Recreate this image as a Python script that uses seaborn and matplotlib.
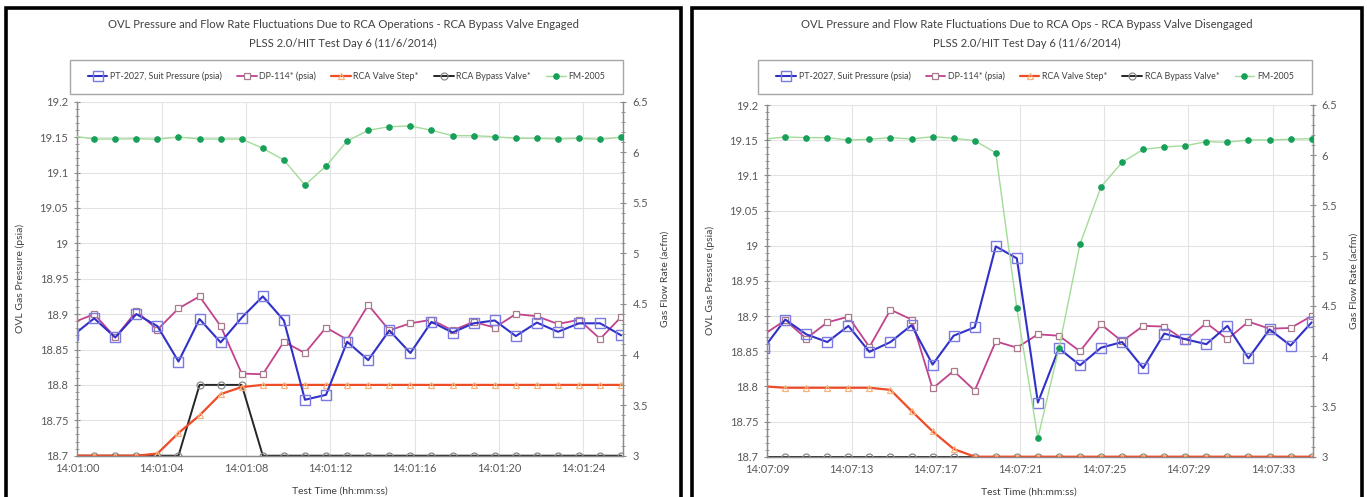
import seaborn as sns
import matplotlib.pyplot as plt
from matplotlib.patches import Rectangle
from matplotlib.ticker import MultipleLocator, FuncFormatter

# ---- data ----
# seconds after the first axis tick (samples sit ~0.8 s after each whole second)
eng_time = [-0.2, 0.8, 1.8, 2.8, 3.8, 4.8, 5.8, 6.8, 7.8, 8.8, 9.8, 10.8, 11.8, 12.8,
            13.8, 14.8, 15.8, 16.8, 17.8, 18.8, 19.8, 20.8, 21.8, 22.8, 23.8, 24.8, 25.8]
eng_pt2027 = [18.870, 18.894, 18.867, 18.900, 18.883, 18.833, 18.893, 18.860, 18.895, 18.925,
              18.891, 18.779, 18.786, 18.861, 18.835, 18.877, 18.845, 18.889, 18.874, 18.887,
              18.891, 18.869, 18.888, 18.875, 18.887, 18.887, 18.870]
eng_dp114 = [18.888, 18.900, 18.867, 18.904, 18.878, 18.908, 18.925, 18.883, 18.816, 18.815,
             18.861, 18.845, 18.881, 18.864, 18.913, 18.877, 18.887, 18.892, 18.877, 18.889,
             18.881, 18.900, 18.897, 18.886, 18.892, 18.865, 18.896]
eng_valve_step = [18.700, 18.700, 18.700, 18.700, 18.703, 18.732, 18.757, 18.787, 18.797, 18.800,
                  18.800, 18.800, 18.800, 18.800, 18.800, 18.800, 18.800, 18.800, 18.800, 18.800,
                  18.800, 18.800, 18.800, 18.800, 18.800, 18.800, 18.800]
eng_bypass = [18.7, 18.7, 18.7, 18.7, 18.7, 18.7, 18.8, 18.8, 18.8, 18.7, 18.7, 18.7, 18.7, 18.7,
              18.7, 18.7, 18.7, 18.7, 18.7, 18.7, 18.7, 18.7, 18.7, 18.7, 18.7, 18.7, 18.7]
eng_fm2005 = [6.160, 6.131, 6.131, 6.134, 6.128, 6.151, 6.131, 6.131, 6.131, 6.039,
              5.923, 5.676, 5.864, 6.111, 6.217, 6.253, 6.260, 6.217, 6.164, 6.164,
              6.154, 6.138, 6.138, 6.131, 6.138, 6.128, 6.148]
eng_ticklabels = ["14:01:00", "14:01:04", "14:01:08", "14:01:12", "14:01:16", "14:01:20", "14:01:24"]

dis_time = [-0.15, 0.85, 1.85, 2.85, 3.85, 4.85, 5.85, 6.85, 7.85, 8.85, 9.85, 10.85, 11.85, 12.85,
            13.85, 14.85, 15.85, 16.85, 17.85, 18.85, 19.85, 20.85, 21.85, 22.85, 23.85, 24.85, 25.85]
dis_pt2027 = [18.855, 18.895, 18.874, 18.863, 18.886, 18.849, 18.863, 18.887, 18.831, 18.872,
              18.884, 18.999, 18.982, 18.777, 18.854, 18.830, 18.855, 18.863, 18.826, 18.875,
              18.867, 18.860, 18.886, 18.840, 18.881, 18.858, 18.891]
dis_dp114 = [18.874, 18.894, 18.868, 18.891, 18.899, 18.856, 18.909, 18.895, 18.797, 18.822,
             18.794, 18.864, 18.855, 18.874, 18.872, 18.850, 18.888, 18.864, 18.886, 18.885,
             18.865, 18.890, 18.867, 18.892, 18.882, 18.883, 18.900]
dis_valve_step = [18.800, 18.798, 18.798, 18.798, 18.798, 18.798, 18.795, 18.765, 18.736, 18.711,
                  18.700, 18.700, 18.700, 18.700, 18.700, 18.700, 18.700, 18.700, 18.700, 18.700,
                  18.700, 18.700, 18.700, 18.700, 18.700, 18.700, 18.700]
dis_bypass = [18.7] * 27
dis_fm2005 = [6.160, 6.182, 6.175, 6.175, 6.152, 6.159, 6.175, 6.162, 6.185, 6.169,
              6.145, 6.025, 4.477, 3.185, 4.079, 5.117, 5.687, 5.930, 6.058, 6.082,
              6.095, 6.135, 6.129, 6.152, 6.152, 6.159, 6.165]
dis_ticklabels = ["14:07:09", "14:07:13", "14:07:17", "14:07:21", "14:07:25", "14:07:29", "14:07:33"]

series_labels = ["PT-2027, Suit Pressure (psia)", "DP-114* (psia)", "RCA Valve Step*",
                 "RCA Bypass Valve*", "FM-2005"]

titles = ["OVL Pressure and Flow Rate Fluctuations Due to RCA Operations - RCA Bypass Valve Engaged",
          "OVL Pressure and Flow Rate Fluctuations Due to RCA Ops - RCA Bypass Valve Disengaged"]
subtitle = "PLSS 2.0/HIT Test Day 6 (11/6/2014)"

sns.set_theme(style="white")
plt.rcParams['font.family'] = ['Lato', 'DejaVu Sans']

W, H = 1367, 497
fig = plt.figure(figsize=(W / 100, H / 100), dpi=100)
fig.patch.set_facecolor('white')

TXT = '#404040'
TICK = '#595959'
SPINE = '#8c8c8c'
GRID = '#e3e3e3'

general = FuncFormatter(lambda v, p: '{:g}'.format(round(v, 3)))


def px_axes(x0, x1, y0, y1):
    return fig.add_axes([x0 / W, 1 - y1 / H, (x1 - x0) / W, (y1 - y0) / H])


def draw_panel(ax, t, pt, dp, step, bypass, fm, ticklabels):
    sns.lineplot(x=t, y=pt, ax=ax, color='#3131c8', lw=1.5, marker='s', markersize=6.5,
                 markerfacecolor='none', markeredgecolor='#7a7ae0', markeredgewidth=1,
                 estimator=None, sort=False, label=series_labels[0], zorder=4)
    sns.lineplot(x=t, y=dp, ax=ax, color='#c2428e', lw=1.3, marker='s', markersize=5,
                 markerfacecolor='white', markeredgecolor='#a87a8a', markeredgewidth=0.9,
                 estimator=None, sort=False, label=series_labels[1], zorder=3)
    sns.lineplot(x=t, y=step, ax=ax, color='#ef4b27', lw=1.6, marker='^', markersize=5,
                 markerfacecolor='none', markeredgecolor='#f5b47a', markeredgewidth=0.9,
                 estimator=None, sort=False, label=series_labels[2], zorder=3)
    sns.lineplot(x=t, y=bypass, ax=ax, color='#262626', lw=1.4, marker='o', markersize=5,
                 markerfacecolor='none', markeredgecolor='#8a8a8a', markeredgewidth=0.9,
                 estimator=None, sort=False, label=series_labels[3], zorder=2)
    ax.set_xlim(0, 25.9)
    ax.set_ylim(18.7, 19.2)
    ax.yaxis.set_major_locator(MultipleLocator(0.05))
    ax.yaxis.set_minor_locator(MultipleLocator(0.01))
    ax.yaxis.set_major_formatter(general)
    ax.set_xticks([0, 4, 8, 12, 16, 20, 24])
    ax.set_xticklabels(ticklabels)
    ax.grid(True, which='major', color=GRID, lw=0.8)
    ax.set_axisbelow(True)

    ax2 = ax.twinx()
    sns.lineplot(x=t, y=fm, ax=ax2, color='#a3dc98', lw=1.0, marker='o', markersize=4,
                 markerfacecolor='#17a05a', markeredgecolor='#17a05a',
                 estimator=None, sort=False, label=series_labels[4], zorder=5)
    ax2.set_ylim(3, 6.5)
    ax2.yaxis.set_major_locator(MultipleLocator(0.5))
    ax2.yaxis.set_minor_locator(MultipleLocator(0.1))
    ax2.yaxis.set_major_formatter(general)
    ax2.grid(False)
    if ax2.get_legend():
        ax2.get_legend().remove()

    for a in (ax, ax2):
        for s in a.spines.values():
            s.set_color(SPINE)
            s.set_linewidth(0.9)
        a.spines['top'].set_visible(False)
        a.tick_params(axis='both', which='major', colors=SPINE, labelcolor=TICK,
                      labelsize=8, length=5, width=0.8, direction='inout')
        a.tick_params(axis='y', which='minor', colors=SPINE, length=3, width=0.6,
                      direction='inout', left=(a is ax), right=(a is ax2))
        a.set_xlabel('')
        a.set_ylabel('')
    ax.tick_params(axis='y', pad=4)
    ax2.tick_params(axis='y', pad=4)
    ax.tick_params(axis='x', pad=3)

    ax.set_ylabel('OVL Gas Pressure (psia)', fontsize=7.5, color=TXT)
    ax.yaxis.set_label_coords(-0.095, 0.5)
    ax2.set_ylabel('Gas Flow Rate (acfm)', fontsize=7.5, color=TXT, rotation=90)
    ax2.yaxis.set_label_coords(1.068, 0.5)
    ax.set_xlabel('Test Time (hh:mm:ss)', fontsize=7.5, color=TXT)
    ax.xaxis.set_label_coords(0.48, -0.088)

    h1, l1 = ax.get_legend_handles_labels()
    h2, l2 = ax2.get_legend_handles_labels()
    return ax2, h1 + h2, l1 + l2


panels = [
    (77.3, 623.3, 101.7, 455.7, 6, 681, 70, 623, 343,
     (eng_time, eng_pt2027, eng_dp114, eng_valve_step, eng_bypass, eng_fm2005, eng_ticklabels)),
    (767.3, 1312.7, 105.0, 456.7, 692, 1362, 758, 1312, 1027,
     (dis_time, dis_pt2027, dis_dp114, dis_valve_step, dis_bypass, dis_fm2005, dis_ticklabels)),
]

for i, (x0, x1, y0, y1, bx0, bx1, lx0, lx1, tx, d) in enumerate(panels):
    ax = px_axes(x0, x1, y0, y1)
    ax2, handles, labels = draw_panel(ax, *d)

    # panel border
    fig.add_artist(Rectangle((bx0 / W, -0.05), (bx1 - bx0) / W, 1 - 8 / H + 0.05,
                             transform=fig.transFigure, fill=False, edgecolor='black', lw=2.6))
    # titles
    fig.text(tx / W, 1 - 25 / H, titles[i], ha='center', va='center', fontsize=8.1, color=TXT)
    fig.text(tx / W, 1 - 43.5 / H, subtitle, ha='center', va='center', fontsize=8.1, color=TXT)
    # legend box + entries
    ly0, ly1 = 59.5, 93.5
    fig.add_artist(Rectangle((lx0 / W, 1 - ly1 / H), (lx1 - lx0) / W, (ly1 - ly0) / H,
                             transform=fig.transFigure, fill=False, edgecolor='#a6a6a6', lw=1.0))
    leg = ax.legend(handles, labels, loc='center', ncol=5, frameon=False,
                    bbox_to_anchor=((lx0 + lx1) / 2 / W, 1 - (ly0 + ly1) / 2 / H),
                    bbox_transform=fig.transFigure, fontsize=6.4, handlelength=2.2,
                    handletextpad=0.3, columnspacing=1.7, borderaxespad=0)
    for t in leg.get_texts():
        t.set_color(TXT)

fig.savefig('out.png', dpi=100, facecolor='white')
